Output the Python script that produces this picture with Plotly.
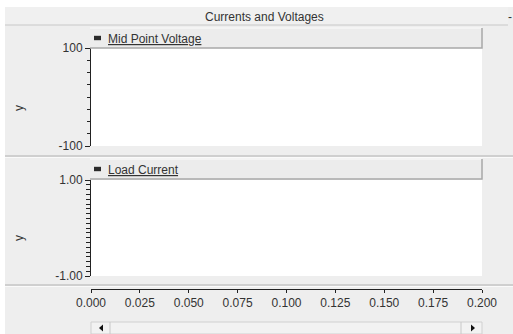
import plotly.graph_objects as go

W, H = 513, 334

# Time axis and the two signal channels (no samples recorded yet)
time_range = [0.0, 0.2]
time_ticks = [0.0, 0.025, 0.05, 0.075, 0.1, 0.125, 0.15, 0.175, 0.2]
channel_names = ["Mid Point Voltage", "Load Current"]
voltage_range = [-100, 100]
current_range = [-1.0, 1.0]
voltage_t, voltage_v = [], []
current_t, current_v = [], []

BG = "#eeeeee"
FONT = "Liberation Sans, Arial, sans-serif"
INK = "#333333"


def px(x):
    return x / W


def py(y):
    return 1 - y / H


x_dom = [px(91), px(482)]

fig = go.Figure()
fig.add_trace(go.Scatter(x=voltage_t, y=voltage_v, name=channel_names[0],
                         mode="lines", line=dict(color=INK), xaxis="x", yaxis="y"))
fig.add_trace(go.Scatter(x=current_t, y=current_v, name=channel_names[1],
                         mode="lines", line=dict(color=INK), xaxis="x2", yaxis="y2"))
# carrier for the shared time axis drawn below the lower panel
fig.add_trace(go.Scatter(x=[], y=[], mode="lines", showlegend=False,
                         xaxis="x3", yaxis="y2"))

yax = dict(showgrid=False, zeroline=False, showline=True, linecolor="#222222",
           linewidth=1, ticks="outside", ticklen=5, tickcolor="#222222", automargin=False,
           tickfont=dict(family=FONT, size=12, color=INK), fixedrange=True)
hidden_x = dict(showgrid=False, zeroline=False, showline=False, showticklabels=False,
                ticks="", range=time_range, domain=x_dom, fixedrange=True,
                automargin=False)

fig.update_layout(
    width=W, height=H, margin=dict(l=0, r=0, t=0, b=0, pad=0, autoexpand=False),
    paper_bgcolor=BG, plot_bgcolor="white", showlegend=False,
    font=dict(family=FONT, size=12, color=INK),
    xaxis=dict(hidden_x, anchor="y"),
    xaxis2=dict(hidden_x, anchor="y2"),
    xaxis3=dict(range=time_range, domain=x_dom, anchor="free", overlaying="x2",
                position=py(289), side="bottom", showgrid=False, zeroline=False,
                showline=True, linecolor="#222222", linewidth=1, automargin=False,
                ticks="outside", ticklen=3, tickcolor="#222222",
                tickvals=time_ticks, ticktext=[f"{t:.3f}" for t in time_ticks],
                tickfont=dict(family=FONT, size=12, color=INK), fixedrange=True),
    yaxis=dict(yax, domain=[py(146), py(48)], range=voltage_range, anchor="x",
               tickvals=voltage_range, ticktext=[f"{v:d}" for v in voltage_range],
               minor=dict(dtick=25, ticks="outside", ticklen=3, tickcolor="#222222")),
    yaxis2=dict(yax, domain=[py(276), py(180)], range=current_range, anchor="x2",
                tickvals=current_range, ticktext=[f"{v:.2f}" for v in current_range],
                minor=dict(dtick=0.1, ticks="outside", ticklen=4, tickcolor="#222222")),
)

shapes = []
# white surround above and left of the window body
shapes.append(dict(type="rect", xref="paper", yref="paper", layer="below",
                   x0=0, x1=1, y0=py(7), y1=1, fillcolor="white", line_width=0))
shapes.append(dict(type="rect", xref="paper", yref="paper", layer="below",
                   x0=0, x1=px(5), y0=0, y1=1, fillcolor="white", line_width=0))
# title bar
shapes.append(dict(type="rect", xref="paper", yref="paper", layer="below",
                   x0=px(5), x1=px(508), y0=py(25), y1=py(7),
                   fillcolor="#f0f0f0", line_width=0))
shapes.append(dict(type="line", xref="paper", yref="paper", layer="below",
                   x0=px(5), x1=px(508), y0=py(25), y1=py(25),
                   line=dict(color="#c8c8c8", width=1)))
# panel separators
for ys in (156, 285):
    shapes.append(dict(type="line", xref="paper", yref="paper", layer="below",
                       x0=px(5), x1=1, y0=py(ys), y1=py(ys),
                       line=dict(color="#c4c4c4", width=1.5)))
    shapes.append(dict(type="line", xref="paper", yref="paper", layer="below",
                       x0=px(5), x1=1, y0=py(ys + 1.5), y1=py(ys + 1.5),
                       line=dict(color="#fafafa", width=1)))
# channel header strips with their legend swatches
for top, bot in ((28, 48), (159, 179)):
    shapes.append(dict(type="rect", xref="paper", yref="paper", layer="below",
                       x0=px(90), x1=px(482), y0=py(bot), y1=py(top),
                       fillcolor="#ececec", line_width=0))
    shapes.append(dict(type="line", xref="paper", yref="paper",
                       x0=px(90), x1=px(482), y0=py(top), y1=py(top),
                       line=dict(color="#fbfbfb", width=1)))
    shapes.append(dict(type="path", xref="paper", yref="paper",
                       path=f"M {px(90)},{py(bot)} L {px(482)},{py(bot)} L {px(482)},{py(top)}",
                       line=dict(color="#a8a8a8", width=1.5)))
    cy = top + 10
    shapes.append(dict(type="rect", xref="paper", yref="paper",
                       x0=px(94), x1=px(101), y0=py(cy + 2.2), y1=py(cy - 2.2),
                       fillcolor="#2a2a2a", line_width=0))
# horizontal scrollbar
shapes.append(dict(type="rect", xref="paper", yref="paper", layer="below",
                   x0=px(91), x1=px(482), y0=0, y1=py(322),
                   fillcolor="#f2f2f2", line=dict(color="#d0d0d0", width=1)))
for xv in (110, 461):
    shapes.append(dict(type="line", xref="paper", yref="paper",
                       x0=px(xv), x1=px(xv), y0=0, y1=py(322),
                       line=dict(color="#c8c8c8", width=1)))
shapes.append(dict(type="path", xref="paper", yref="paper", fillcolor="#111111",
                   line_width=0,
                   path=f"M {px(99)},{py(328)} L {px(103)},{py(324.5)} L {px(103)},{py(331.5)} Z"))
shapes.append(dict(type="path", xref="paper", yref="paper", fillcolor="#111111",
                   line_width=0,
                   path=f"M {px(475)},{py(328)} L {px(471)},{py(324.5)} L {px(471)},{py(331.5)} Z"))
fig.update_layout(shapes=shapes)

ann = [
    dict(text="Currents and Voltages", x=px(264), y=py(16.5)),
    dict(text="-", x=px(510), y=py(16.5)),
    dict(text=f"<u>{channel_names[0]}</u>", x=px(106), y=py(38.5), xanchor="left"),
    dict(text=f"<u>{channel_names[1]}</u>", x=px(106), y=py(169.5), xanchor="left"),
    dict(text="y", x=px(19), y=py(108), textangle=-90),
    dict(text="y", x=px(19), y=py(238), textangle=-90),
]
for a in ann:
    a.setdefault("xanchor", "center")
    fig.add_annotation(xref="paper", yref="paper", yanchor="middle", showarrow=False,
                       font=dict(family=FONT, size=12, color=INK), **a)

fig.write_html("out.html")
